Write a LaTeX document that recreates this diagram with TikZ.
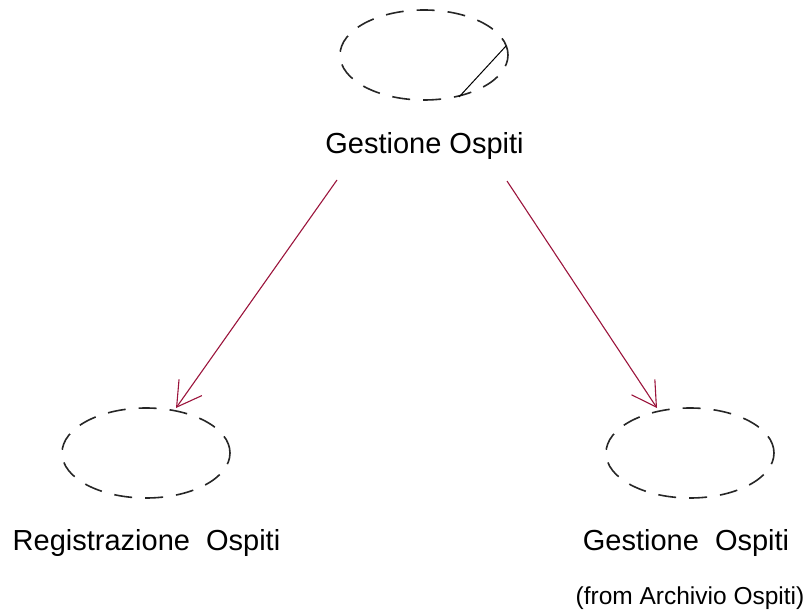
\documentclass[tikz,border=0pt]{standalone}
\usepackage{fontspec}
\setmainfont{Liberation Sans}
\usetikzlibrary{arrows.meta,shapes.geometric}
\definecolor{arrowred}{RGB}{155,20,60}
\tikzset{
  uc/.style={draw=black!85, line width=1.6pt, dash pattern=on 18pt off 13pt, ellipse, minimum width=168pt, minimum height=90pt, inner sep=0pt},
  lbl/.style={font=\fontsize{29}{33}\selectfont, inner sep=0pt},
  small/.style={font=\fontsize{24.5}{28}\selectfont, inner sep=0pt},
  dep/.style={draw=arrowred, line width=1.1pt, -{Straight Barb[length=24pt,width=28pt,line width=1.1pt]}}
}
\begin{document}
\begin{tikzpicture}[x=1pt,y=-1pt]
\useasboundingbox (0,0) rectangle (809,615);
\node[uc] (top) at (424,55) {};
\node[uc] (left) at (146,453) {};
\node[uc] (right) at (690,453) {};
\coordinate (tl1) at (506,46);
\coordinate (tl2) at (459,97);
\draw[line width=1pt] (tl1) -- (tl2);
\node[lbl] (ttop) at (424.5,146) {Gestione Ospiti};
\node[lbl] (tleft) at (146.5,543) {Registrazione\ \ Ospiti};
\node[lbl] (tright) at (686,543) {Gestione\ \ Ospiti};
\node[small] (tfrom) at (690,598) {(from Archivio Ospiti)};
\coordinate (a1s) at (337,180);
\coordinate (a1e) at (176,408);
\coordinate (a2s) at (507,181);
\coordinate (a2e) at (657,408);
\draw[dep] (a1s) -- (a1e);
\draw[dep] (a2s) -- (a2e);
\end{tikzpicture}
\end{document}
